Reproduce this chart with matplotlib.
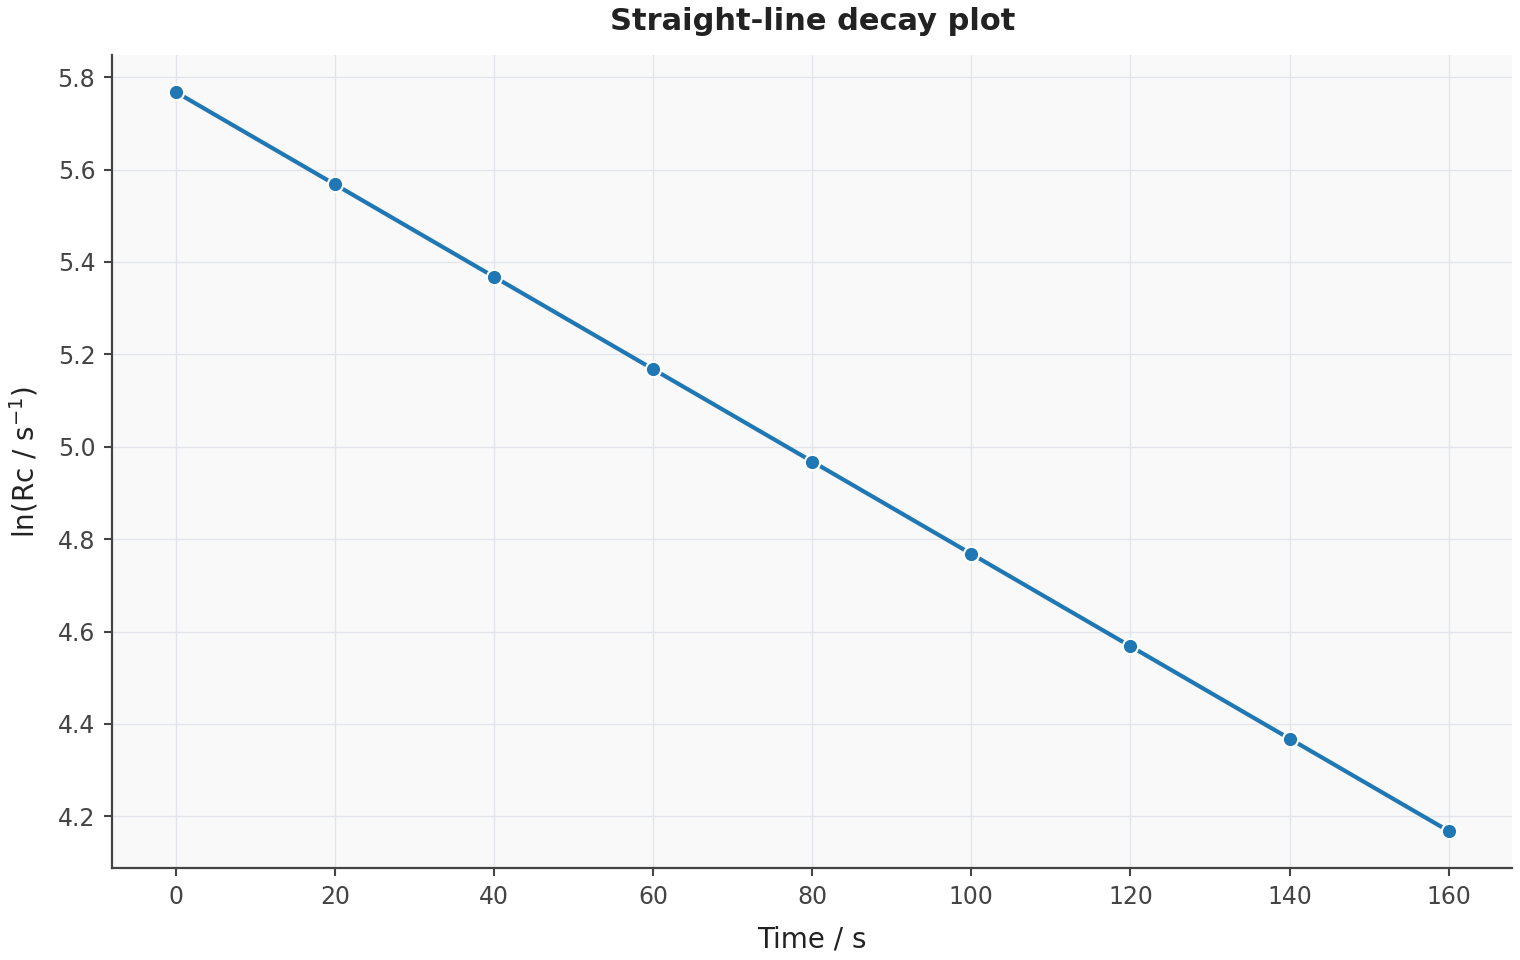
import matplotlib
matplotlib.use("Agg")
import matplotlib.pyplot as plt
import numpy as np

time_s = [0, 20, 40, 60, 80, 100, 120, 140, 160]
ln_rc = [5.768, 5.568, 5.368, 5.168, 4.968, 4.768, 4.568, 4.368, 4.168]

fig = plt.figure(figsize=(15.2, 9.6), dpi=100)
ax = fig.add_axes([0.0737, 0.0958, 0.9213, 0.8469])
ax.set_facecolor("#f9f9fa")
ax.grid(True, color="#e3e5ea", linewidth=1.0)
ax.set_axisbelow(True)

ax.plot(time_s, ln_rc, color="#1f77b4", linewidth=3, marker="o", markersize=11,
        markeredgecolor="white", markeredgewidth=1.5, zorder=3)

for s in ["top", "right"]:
    ax.spines[s].set_visible(False)
for s in ["left", "bottom"]:
    ax.spines[s].set_color("#444444")
    ax.spines[s].set_linewidth(1.6)

ax.tick_params(axis="both", colors="#444444", labelsize=17, length=6, width=1.5, pad=6)
for lbl in ax.get_xticklabels() + ax.get_yticklabels():
    lbl.set_color("#444444")

ax.set_xticks([0, 20, 40, 60, 80, 100, 120, 140, 160])
ax.set_yticks([4.2, 4.4, 4.6, 4.8, 5.0, 5.2, 5.4, 5.6, 5.8])

ax.set_xlabel("Time / s", fontsize=20, color="#222222", labelpad=12)
ax.set_ylabel(r"ln(Rc / s$^{-1}$)", fontsize=20, color="#222222", labelpad=12)
ax.set_title("Straight-line decay plot", fontsize=22, fontweight="bold", color="#222222", pad=18)

fig.savefig("out.png", dpi=100)
